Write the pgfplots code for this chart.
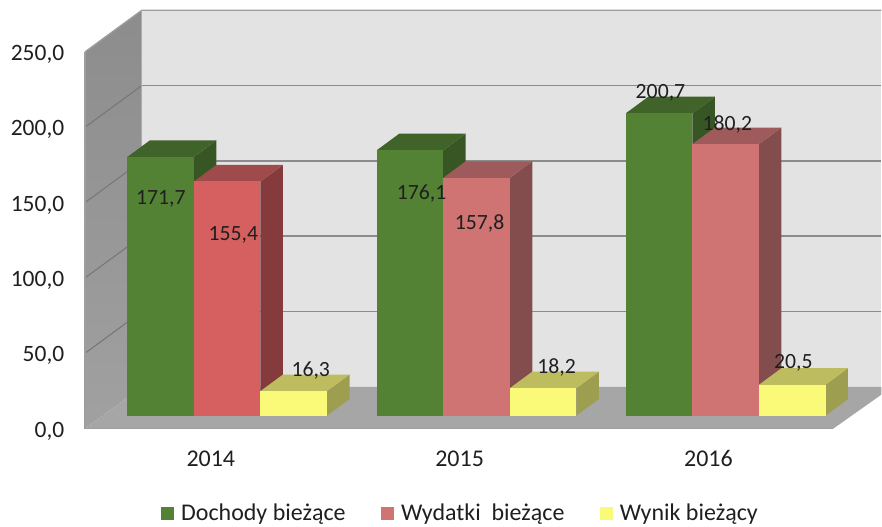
\documentclass[border=0pt]{standalone}
\usepackage{fontspec}
\setmainfont{Carlito}
\usepackage{pgfplots}
\pgfplotsset{compat=1.18}
\definecolor{gfront}{HTML}{548235}
\definecolor{gtop}{HTML}{40632A}
\definecolor{gside}{HTML}{375623}
\definecolor{rAfront}{HTML}{D65F5F}
\definecolor{rAtop}{HTML}{A04B4B}
\definecolor{rAside}{HTML}{853B3B}
\definecolor{rfront}{HTML}{CF7473}
\definecolor{rtop}{HTML}{9F5B5B}
\definecolor{rside}{HTML}{834D4D}
\definecolor{yfront}{HTML}{FAFA78}
\definecolor{ytop}{HTML}{BDBD5F}
\definecolor{yside}{HTML}{9E9E50}
\definecolor{wall}{HTML}{E3E3E3}
\definecolor{floorc}{HTML}{A6A6A6}
\definecolor{gridc}{HTML}{8C8C8C}
\definecolor{txt}{HTML}{1F1F1F}
% x in reference pixels, y in chart values; 1 px = 0.75 pt, depth of a bar = 22.5 px / 11 units
\newcommand{\BarThreeD}[5]{%
  \addplot[forget plot,fill=#5,draw=none,shift={(0pt,9.75pt)}] coordinates {({#1+66.6},0) ({#1+89.1},11) ({#1+89.1},{#2+11}) ({#1+66.6},#2)} --cycle;
  \addplot[forget plot,fill=#4,draw=none,shift={(0pt,9.75pt)}] coordinates {(#1,#2) ({#1+22.5},{#2+11}) ({#1+89.1},{#2+11}) ({#1+66.6},#2)} --cycle;
  \addplot[forget plot,ybar,bar width=49.95pt,bar shift=0pt,fill=#3,draw=none,shift={(0pt,9.75pt)}] coordinates {({#1+33.3},#2)};
}
\newcommand{\BackGrid}[1]{%
  \addplot[forget plot,draw=gridc,line width=1.1pt] coordinates {(142,#1) (882,#1)};
}
\newcommand{\SideGrid}[2]{%
  \addplot[forget plot,draw=gridc!85!black,line width=.8pt] coordinates {(85,#1) (142,#2)};
}
\newcommand{\ValLabel}[3]{%
  \node[text=txt,inner sep=0pt,yshift=-1pt,font=\fontsize{16.3}{16}\selectfont] at (axis cs:#1,{(429-#2)/1.508}) {#3};
}
\begin{document}
\begin{tikzpicture}
\begin{axis}[
  scale only axis,
  width=597.75pt, height=282.75pt,
  xmin=85, xmax=882, ymin=0, ymax=250,
  clip=false,
  axis line style={draw=none},
  tick style={draw=none},
  xtick={211,460,709},
  xticklabels={2014,2015,2016},
  ytick={0,50,100,150,200,250},
  /pgf/number format/assume math mode=true,
  /pgf/number format/.cd, fixed, fixed zerofill, precision=1, use comma, /tikz/.cd,
  tick label style={font=\fontsize{17.6}{18}\selectfont,text=txt},
  yticklabel style={xshift=-12pt,yshift=-1.8pt},
  xticklabel style={yshift=-13pt,font=\fontsize{18}{18}\selectfont},
  legend columns=3,
  legend cell align=left,
  legend style={at={(0.0954,-0.2255)},anchor=west,draw=none,fill=none,inner sep=0pt,outer sep=0pt,
    font=\fontsize{18}{18}\selectfont,text=txt,
    /tikz/every odd column/.append style={column sep=3.5pt},
    /tikz/every even column/.append style={column sep=24.5pt}},
  legend image code/.code={\fill[#1] (0pt,-4.7pt) rectangle (9.7pt,4.7pt);},
]
% walls and floor
\addplot[forget plot,fill=wall,draw=none] coordinates {(142,27.7) (882,27.7) (882,277.7) (142,277.7)} --cycle;
\addplot[forget plot,draw=none,top color=black!45,bottom color=black!37] coordinates {(85,0) (142,27.7) (142,277.7) (85,250)} --cycle;
\addplot[forget plot,fill=floorc,draw=none] coordinates {(85,0) (142,27.7) (882,27.7) (882,22.5) (834,0)} --cycle;
\SideGrid{50}{77.7}\SideGrid{100}{127.7}\SideGrid{150}{177.7}\SideGrid{200}{227.7}
\addplot[forget plot,draw=black!38,line width=1pt] coordinates {(85,250) (142,277.7) (882,277.7)};
\BackGrid{77.7}\BackGrid{127.7}\BackGrid{177.7}\BackGrid{227.7}
\addplot[forget plot,draw=black!33,line width=.8pt] coordinates {(142,27.7) (142,277.7)};
\addplot[forget plot,draw=black!38,line width=1pt] coordinates {(85,250) (85,0) (834,0)};
% bars
\BarThreeD{127.5}{171.7}{gfront}{gtop}{gside}
\BarThreeD{194.1}{155.4}{rAfront}{rAtop}{rAside}
\BarThreeD{260.7}{16.3}{yfront}{ytop}{yside}
\BarThreeD{377}{176.1}{gfront}{gtop}{gside}
\BarThreeD{443.6}{157.8}{rfront}{rtop}{rside}
\BarThreeD{510.2}{18.2}{yfront}{ytop}{yside}
\BarThreeD{626.4}{200.7}{gfront}{gtop}{gside}
\BarThreeD{693}{180.2}{rfront}{rtop}{rside}
\BarThreeD{759.6}{20.5}{yfront}{ytop}{yside}
% legend
\addlegendimage{fill=gfront,draw=none}\addlegendentry{Dochody bieżące}
\addlegendimage{fill=rfront,draw=none}\addlegendentry{Wydatki~ bieżące}
\addlegendimage{fill=yfront,draw=none}\addlegendentry{Wynik bieżący}
% value labels
\ValLabel{161}{198}{171,7}
\ValLabel{233.5}{234}{155,4}
\ValLabel{311}{370}{16,3}
\ValLabel{422}{192}{176,1}
\ValLabel{480}{222}{157,8}
\ValLabel{557}{366}{18,2}
\ValLabel{661}{92}{200,7}
\ValLabel{728}{123}{180,2}
\ValLabel{794}{362}{20,5}
% picture area
\path (axis cs:0,-64.99) rectangle (axis cs:882,284.48);
\end{axis}
\end{tikzpicture}
\end{document}
